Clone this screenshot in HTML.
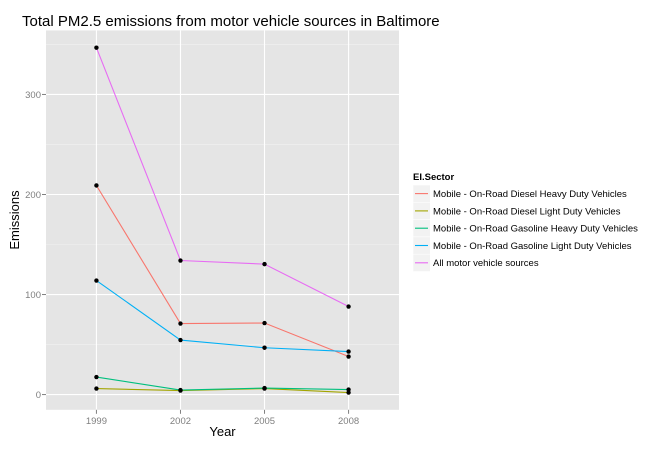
<!DOCTYPE html>
<html><head><meta charset="utf-8"><style>
body{margin:0;background:#fff;font-family:"Liberation Sans",Arial,sans-serif}
</style></head><body>
<svg id="chart" width="669" height="447" xmlns="http://www.w3.org/2000/svg" font-family="Liberation Sans, Arial, sans-serif">
<text x="22" y="26" font-size="15" fill="#000">Total PM2.5 emissions from motor vehicle sources in Baltimore</text>
<rect x="46" y="30.4" width="353" height="379.4" fill="#e5e5e5"/>
<g id="grid"></g>
<g id="series"></g>
<g id="axes"></g>
<text x="222.5" y="436" font-size="13" text-anchor="middle">Year</text>
<text transform="translate(19,220) rotate(-90)" font-size="13" text-anchor="middle">Emissions</text>
<g id="legend"></g>
</svg>
<script>
const years = ["1999","2002","2005","2008"];
const seriesNames = ["Mobile - On-Road Diesel Heavy Duty Vehicles","Mobile - On-Road Diesel Light Duty Vehicles","Mobile - On-Road Gasoline Heavy Duty Vehicles","Mobile - On-Road Gasoline Light Duty Vehicles","All motor vehicle sources"];
const dieselHeavy = [209.0, 71.0, 71.5, 38.0];
const dieselLight = [6.0, 4.0, 6.0, 2.0];
const gasHeavy = [17.5, 4.5, 6.5, 5.0];
const gasLight = [114.0, 54.5, 46.8, 43.0];
const allSources = [346.8, 134.0, 130.4, 88.0];
const yTicks = [0, 100, 200, 300];
const colors = ["#F8766D","#A3A500","#00BF7D","#00B0F6","#E76BF3"];
const NS="http://www.w3.org/2000/svg";
const allSeries=[dieselHeavy,dieselLight,gasHeavy,gasLight,allSources];
const L=46,R=399,T=30.4,B=409.8;
let mn=Infinity,mx=-Infinity;allSeries.forEach(s=>s.forEach(v=>{mn=Math.min(mn,v);mx=Math.max(mx,v);}));
const pad=(mx-mn)*0.05, y0=mn-pad, y1=mx+pad;
const y=v=>B-(v-y0)/(y1-y0)*(B-T);
const x=i=>L+(i+0.6)/(years.length-1+1.2)*(R-L);
function mk(t,a,p){const e=document.createElementNS(NS,t);for(const k in a)e.setAttribute(k,a[k]);p.appendChild(e);return e;}
const grid=document.getElementById('grid'),axes=document.getElementById('axes'),ser=document.getElementById('series'),leg=document.getElementById('legend');
for(let i=0;i<yTicks.length;i++){
 const v=yTicks[i];
 if(i<yTicks.length){const m=v+(yTicks[1]-yTicks[0])/2;if(y(m)>T){const g=mk('line',{x1:L,x2:R,y1:y(m),y2:y(m),stroke:'#f2f2f2','stroke-width':0.6},grid);}}
 const g=mk('line',{x1:L,x2:R,y1:y(v),y2:y(v),stroke:'#fff','stroke-width':1.1},grid);
 
 const t=mk('text',{x:41,y:y(v)+3.5,'font-size':9.5,fill:'#7f7f7f','text-anchor':'end'},axes);t.textContent=v;
 
 mk('line',{x1:42,x2:46,y1:y(v),y2:y(v),stroke:'#7f7f7f'},axes);
}
years.forEach((yr,i)=>{
 const g=mk('line',{x1:x(i),x2:x(i),y1:T,y2:B,stroke:'#fff','stroke-width':1.1},grid);
 
 mk('line',{x1:x(i),x2:x(i),y1:B,y2:B+4,stroke:'#7f7f7f'},axes);
 const t=mk('text',{x:x(i),y:B+14,'font-size':9.5,fill:'#7f7f7f','text-anchor':'middle'},axes);t.textContent=yr;
 
});
allSeries.forEach((s,k)=>{
 const p=mk('polyline',{points:s.map((v,i)=>x(i)+','+y(v)).join(' '),fill:'none',stroke:colors[k],'stroke-width':1.1},ser);
 
});
allSeries.forEach(s=>s.forEach((v,i)=>{
 const c=mk('circle',{cx:x(i),cy:y(v),r:2.2,fill:'#000'},ser);
 
}));
const lt=mk('text',{x:413,y:180,'font-size':9.5,'font-weight':'bold'},leg);lt.textContent='EI.Sector';

seriesNames.forEach((n,k)=>{
 const yy=185+k*17.3;
 const r=mk('rect',{x:413,y:yy,width:17.3,height:17.3,fill:'#f2f2f2',stroke:'#fff','stroke-width':0.5},leg);
 
 mk('line',{x1:415,x2:428,y1:yy+8.6,y2:yy+8.6,stroke:colors[k],'stroke-width':1.1},leg);
 const t=mk('text',{x:433,y:yy+12,'font-size':9.5},leg);t.textContent=n;
 
});
</script>
</body></html>
